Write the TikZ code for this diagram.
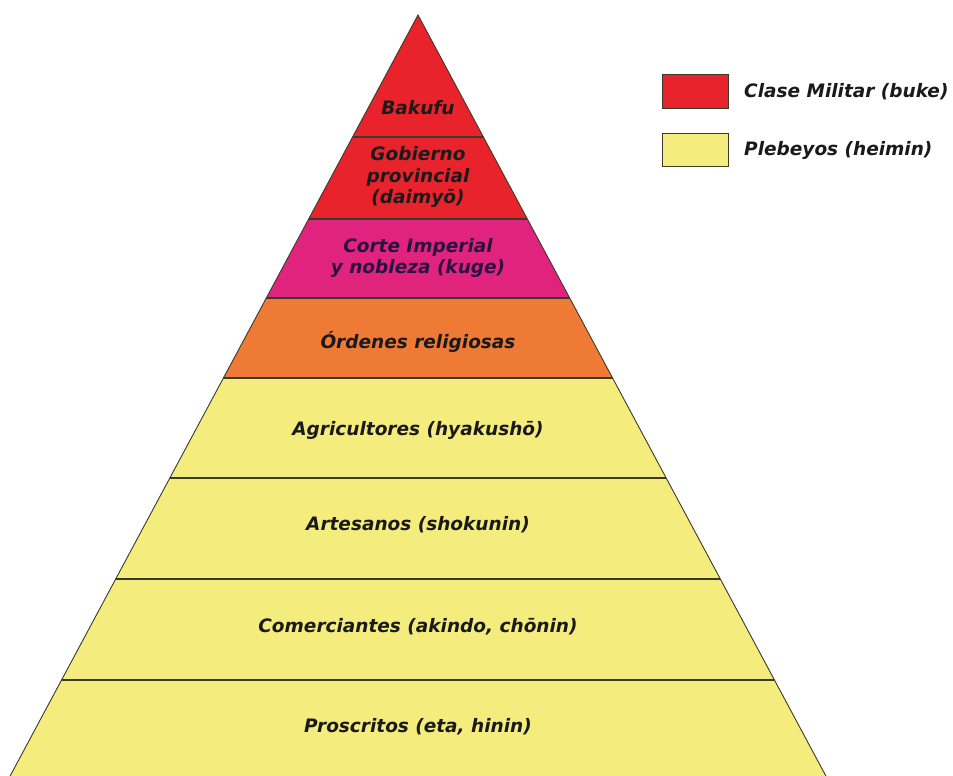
\documentclass[tikz,border=0pt]{standalone}
\usepackage{fontspec}
\setmainfont{DejaVu Sans}
\definecolor{milred}{HTML}{E8232B}
\definecolor{nobmag}{HTML}{E0247E}
\definecolor{relor}{HTML}{EE7A35}
\definecolor{pleb}{HTML}{F4EC7C}
\definecolor{ink}{HTML}{1A1A1A}
\definecolor{edge}{HTML}{3A3A2A}
\newcommand\pyrlayer[3]{\fill[#3] ({418-0.536*(#1-15)},#1) -- ({418+0.536*(#1-15)},#1) -- ({418+0.536*(#2-15)},#2) -- ({418-0.536*(#2-15)},#2) -- cycle;}
\newcommand\pyrline[1]{\draw[sep] ({418-0.536*(#1-15)},#1) -- ({418+0.536*(#1-15)},#1);}
\begin{document}
\begin{tikzpicture}[x=1pt,y=-1pt,
  lab/.style={font=\fontsize{18.5}{21.5}\selectfont\bfseries\itshape, text=ink, align=center, inner sep=0pt},
  sep/.style={draw=edge, line width=1.3pt},
  legbox/.style={draw=edge, line width=0.9pt}]
\useasboundingbox[fill=white] (0,0) rectangle (953,776);
\pyrlayer{15}{137}{milred}
\pyrlayer{137}{219}{milred}
\pyrlayer{219}{298}{nobmag}
\pyrlayer{298}{378}{relor}
\pyrlayer{378}{776}{pleb}
\pyrline{137}\pyrline{219}\pyrline{298}\pyrline{378}\pyrline{478}\pyrline{579}\pyrline{680}
\draw[edge, line width=0.9pt] (10.1,776) -- (418,15) -- (825.9,776);
\node[lab] (bakufu) at (418,108) {Bakufu};
\node[lab] (gob) at (418,177) {Gobierno\\provincial\\(daimyō)};
\node[lab, text={rgb,255:red,40;green,16;blue,64}] (corte) at (418,258) {Corte Imperial\\y nobleza (kuge)};
\node[lab] (ord) at (418,342) {Órdenes religiosas};
\node[lab] (agr) at (418,430) {Agricultores (hyakushō)};
\node[lab] (art) at (418,525) {Artesanos (shokunin)};
\node[lab] (com) at (418,627) {Comerciantes (akindo, chōnin)};
\node[lab] (pros) at (418,727) {Proscritos (eta, hinin)};
\filldraw[legbox, fill=milred] (662,74) rectangle (728,108);
\filldraw[legbox, fill=pleb] (662,133) rectangle (728,166);
\node[lab, anchor=west] (mil) at (744,92) {Clase Militar (buke)};
\node[lab, anchor=west] (plb) at (744,150) {Plebeyos (heimin)};
\end{tikzpicture}
\end{document}
